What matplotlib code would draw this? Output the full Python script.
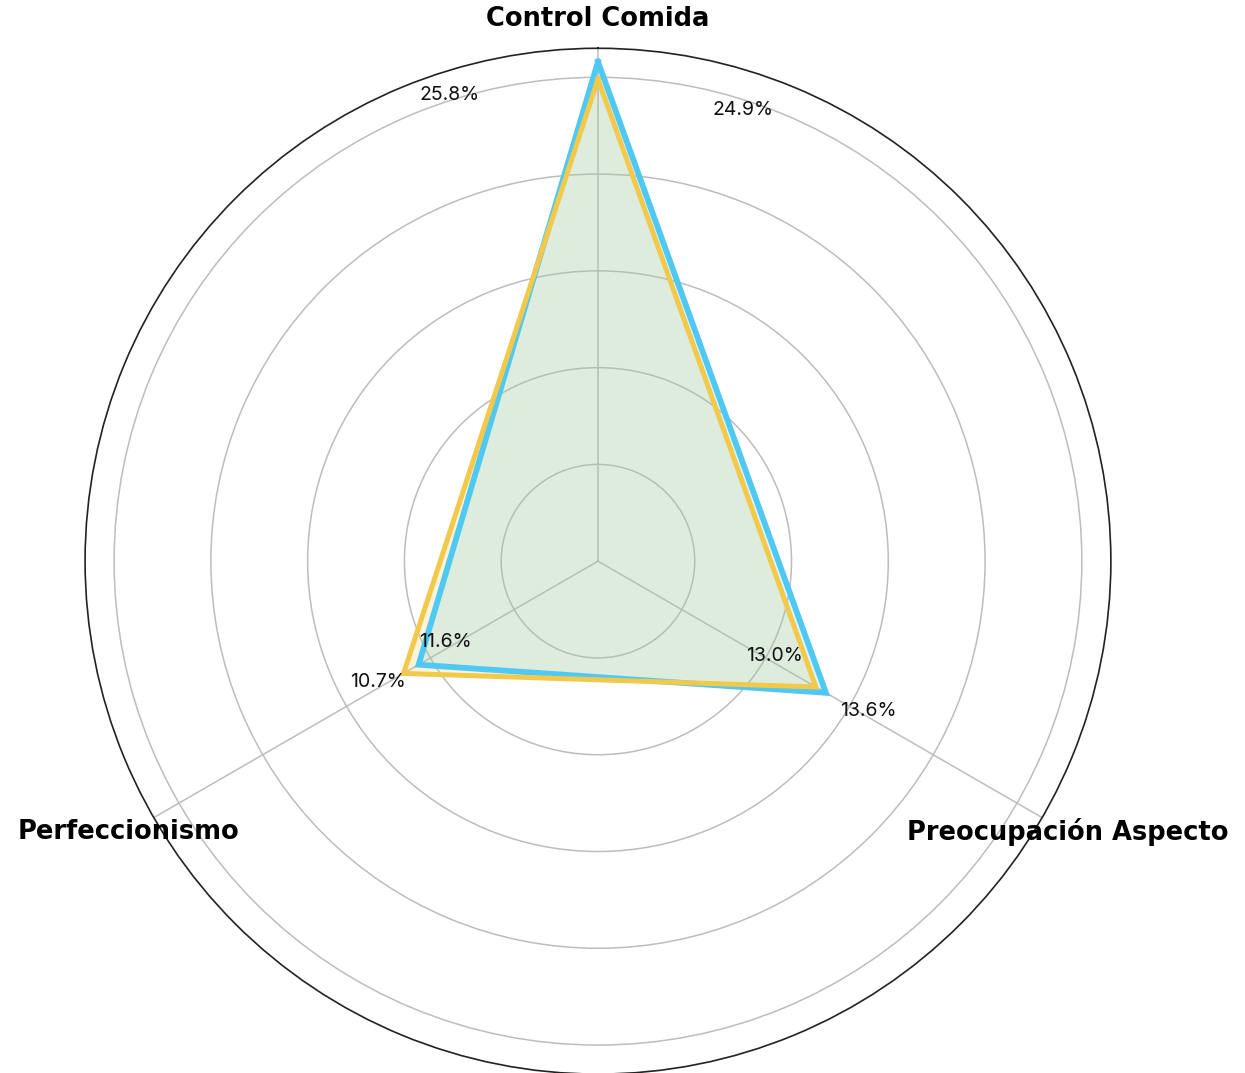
import numpy as np
import matplotlib
matplotlib.use("Agg")
import matplotlib.pyplot as plt

categories = ["Control Comida", "Preocupación Aspecto", "Perfeccionismo"]
series_blue = [25.8, 13.6, 10.7]
series_yellow = [24.9, 13.0, 11.6]
ring_ticks = [5, 10, 15, 20, 25]
r_max = 26.5

blue = "#4fc9f3"
yellow = "#f2c94a"

# label offsets in pixels (dx, dy)
blue_offsets = [(-148, -33), (42, -18), (-41, -17)]
yellow_offsets = [(145, -31), (-41, 31), (42, 31)]

fig = plt.figure(figsize=(12.45, 10.73), dpi=100)
ax = fig.add_axes([0.0683, -0.001, 0.824, 0.956], projection="polar")
ax.set_theta_offset(np.pi / 2)
ax.set_theta_direction(-1)

angles = np.linspace(0, 2 * np.pi, len(categories), endpoint=False)
ang_closed = np.concatenate([angles, angles[:1]])

ax.set_ylim(0, r_max)
ax.set_yticks(ring_ticks)
ax.set_yticklabels([])
ax.set_xticks(angles)
ax.set_xticklabels([])
ax.grid(color="#bdbdbd", linewidth=1.1)
ax.spines["polar"].set_color("#222222")
ax.spines["polar"].set_linewidth(1.2)
ax.tick_params(axis="x", length=0)

for vals, col, a_ in [(series_yellow, yellow, 0.2), (series_blue, blue, 0.17)]:
    v = np.concatenate([vals, vals[:1]])
    ax.fill(ang_closed, v, color=col, alpha=a_, zorder=2, linewidth=0)

for vals, col, lw, z in [(series_blue, blue, 4.2, 3), (series_yellow, yellow, 3.6, 4)]:
    v = np.concatenate([vals, vals[:1]])
    ax.plot(ang_closed, v, color=col, linewidth=lw, zorder=z, solid_joinstyle="miter")

for vals, offs in [(series_blue, blue_offsets), (series_yellow, yellow_offsets)]:
    for a, val, (dx, dy) in zip(angles, vals, offs):
        ax.annotate(f"{val:.1f}%", xy=(a, val), xytext=(dx, dy),
                    textcoords="offset pixels", ha="center", va="center",
                    fontsize=14, family=["Inter", "DejaVu Sans"], color="#111111",
                    zorder=6)

for a, cat in zip(angles, categories):
    ax.text(a, 28.0, cat, ha="center", va="center", fontsize=18.5,
            fontweight="bold", family="DejaVu Sans", color="black", clip_on=False)

fig.savefig("out.png", dpi=100)
